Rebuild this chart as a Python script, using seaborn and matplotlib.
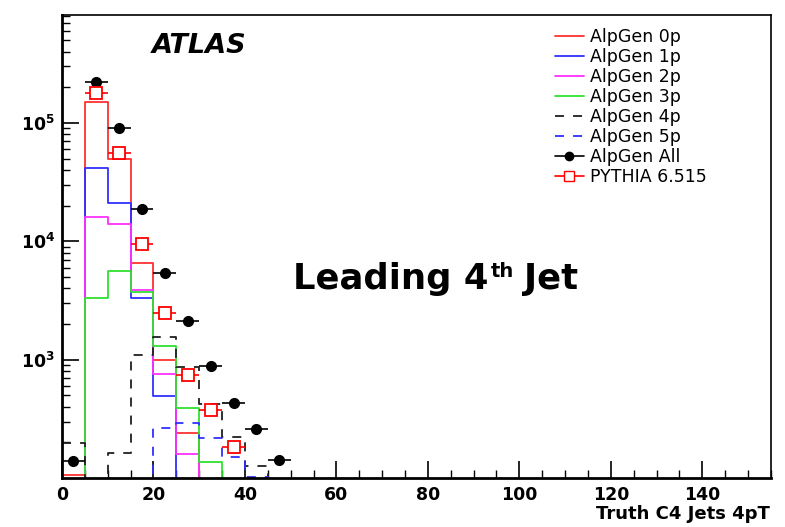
import numpy as np
import pandas as pd
import matplotlib
matplotlib.use("Agg")
import matplotlib.pyplot as plt
import seaborn as sns
from matplotlib.lines import Line2D
from matplotlib.ticker import FixedLocator, MultipleLocator, NullFormatter

sns.set_style("white")
plt.rcParams['font.family'] = ['DejaVu Sans']
plt.rcParams['mathtext.fontset'] = 'dejavusans'
plt.rcParams['text.color'] = 'black'
plt.rcParams['xtick.color'] = 'black'
plt.rcParams['ytick.color'] = 'black'

# bins of 5 GeV (1 = below the plot floor)
edges = list(range(0, 55, 5))
centers = [e + 2.5 for e in edges[:-1]]
alp0 = [107, 1.5e5, 5.0e4, 6.6e3, 1000, 240, 1, 1, 1, 1]
alp1 = [1, 4.2e4, 2.1e4, 3.3e3, 490, 1, 1, 1, 1, 1]
alp2 = [1, 1.6e4, 1.4e4, 3.9e3, 760, 158, 1, 1, 1, 1]
alp3 = [1, 3.3e3, 5.6e3, 3.7e3, 1300, 390, 137, 1, 1, 1]
alp4 = [196, 1, 162, 1100, 1540, 866, 418, 220, 127, 1]
alp5 = [1, 1, 1, 1, 262, 292, 218, 150, 101, 1]
alp_all = [140, 2.2e5, 9.1e4, 1.87e4, 5.4e3, 2.1e3, 877, 432, 257, 143]
pythia = [np.nan, 1.8e5, 5.6e4, 9.4e3, 2.5e3, 736, 376, 182, np.nan, np.nan]

series = [
    ("AlpGen 0p", alp0, "#ff3030", "-"),
    ("AlpGen 1p", alp1, "#3030ff", "-"),
    ("AlpGen 2p", alp2, "#ff30ff", "-"),
    ("AlpGen 3p", alp3, "#30e030", "-"),
    ("AlpGen 4p", alp4, "#202020", (0, (5, 5))),
    ("AlpGen 5p", alp5, "#3030ff", (0, (5, 5))),
]

fig = plt.figure(figsize=(7.85, 5.27), dpi=100)
ax = fig.add_axes([0.079, 0.093, 0.903, 0.879])

for name, vals, col, ls in series:
    d = pd.DataFrame({"pt": centers, "w": vals})
    sns.histplot(data=d, x="pt", weights="w", bins=edges, element="step", fill=False,
                 color=col, linestyle=ls, linewidth=1.3, ax=ax)

ax.errorbar(centers, alp_all, xerr=2.5, fmt="o", color="black", ms=7, lw=1.2, capsize=0)
ax.errorbar(centers, pythia, xerr=2.5, fmt="s", color="red", mfc="white", mec="red",
            mew=1.3, ms=8, lw=1.2, capsize=0)

ax.set_yscale("log")
ax.set_xlim(0, 155)
ax.set_ylim(100, 8.2e5)
ax.set_xlabel("")
ax.set_ylabel("")

ax.xaxis.set_major_locator(MultipleLocator(20))
ax.xaxis.set_minor_locator(MultipleLocator(5))
ax.yaxis.set_major_locator(FixedLocator([1e3, 1e4, 1e5]))
ax.yaxis.set_minor_locator(FixedLocator([m * 10 ** d for d in range(2, 6) for m in range(2, 10)]))
ax.yaxis.set_minor_formatter(NullFormatter())
ax.set_yticklabels([r"$\mathbf{10^{3}}$", r"$\mathbf{10^{4}}$", r"$\mathbf{10^{5}}$"])
ax.tick_params(axis="both", which="both", direction="in", top=False, right=False,
               bottom=True, left=True)
ax.tick_params(axis="both", which="major", length=12, width=1.2, labelsize=12.5)
ax.tick_params(axis="both", which="minor", length=6, width=1)
ax.tick_params(axis="x", pad=6)
ax.tick_params(axis="y", pad=5)
for lab in ax.get_xticklabels():
    lab.set_fontweight("bold")

for s in ["left", "bottom"]:
    ax.spines[s].set_linewidth(2)
for s in ["top", "right"]:
    ax.spines[s].set_linewidth(1.2)
for s in ax.spines.values():
    s.set_color("black")

ax.text(0.127, 0.918, "ATLAS", transform=ax.transAxes, fontsize=19.5,
        fontweight="bold", fontstyle="italic", va="baseline")

# "Leading 4th Jet" with a small raised "th"
t1 = ax.text(0.326, 0.392, "Leading 4", transform=ax.transAxes,
             fontsize=25.5, fontweight="bold", va="bottom")
t2 = ax.annotate("th", xy=(1, 1.0), xycoords=t1, xytext=(1.5, 0), textcoords="offset points",
                 fontsize=14, fontweight="bold", va="top", ha="left")
ax.annotate("Jet", xy=(1, 0), xycoords=(t2, t1), xytext=(7, 0), textcoords="offset points",
            fontsize=25.5, fontweight="bold", va="bottom", ha="left")

fig.text(0.981, 0.008, "Truth C4 Jets 4pT", ha="right", va="bottom",
         fontsize=13, fontweight="bold")

handles = [Line2D([], [], color=c, ls=ls, lw=1.3) for _, _, c, ls in series]
handles.append(Line2D([], [], color="black", marker="o", ms=6, lw=1.2))
handles.append(Line2D([], [], color="red", marker="s", mfc="white", mec="red", ms=7, lw=1.2))
labels = [s[0] for s in series] + ["AlpGen All", "PYTHIA 6.515"]
ax.legend(handles, labels, loc="upper left", bbox_to_anchor=(0.695, 0.972), frameon=False,
          fontsize=12.5, labelspacing=0.12, handlelength=1.7, handletextpad=0.35,
          borderaxespad=0, borderpad=0)

fig.savefig("out.png", dpi=100)
